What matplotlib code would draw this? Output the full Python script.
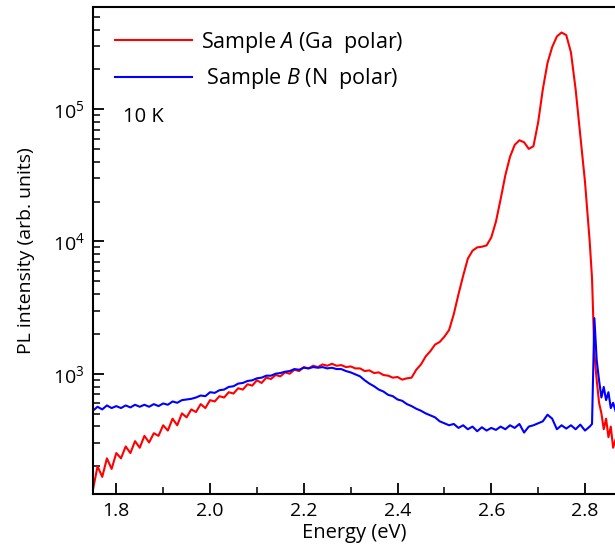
import numpy as np
import matplotlib
matplotlib.use("Agg")
import matplotlib.pyplot as plt
from matplotlib.ticker import MultipleLocator, LogLocator, NullFormatter

plt.rcParams['font.family'] = ['Open Sans', 'DejaVu Sans']
plt.rcParams['mathtext.fontset'] = 'custom'
plt.rcParams['mathtext.it'] = 'Open Sans:italic'
plt.rcParams['mathtext.rm'] = 'Open Sans'

# energy grid (eV)
energy = np.round(np.arange(1.75, 2.8151, 0.01), 3)
energy_tail = [2.815, 2.82, 2.825, 2.83, 2.835, 2.84, 2.845, 2.85, 2.855, 2.86, 2.865]

# log10 of PL intensity, sample A (Ga polar)
log_a = [2.12, 2.30, 2.22, 2.36, 2.28, 2.40, 2.36, 2.45, 2.40, 2.49,
         2.44, 2.53, 2.48, 2.55, 2.53, 2.61, 2.57, 2.66, 2.61, 2.70,
         2.67, 2.73, 2.71, 2.77, 2.74, 2.80, 2.79, 2.83, 2.82, 2.86,
         2.85, 2.89, 2.88, 2.92, 2.91, 2.95, 2.93, 2.97, 2.96, 2.99,
         2.98, 3.01, 3.00, 3.03, 3.02, 3.05, 3.04, 3.06, 3.05, 3.07,
         3.06, 3.075, 3.06, 3.065, 3.05, 3.055, 3.04, 3.04, 3.02, 3.025,
         3.005, 3.01, 2.99, 2.985, 2.97, 2.975, 2.955, 2.965, 2.97, 3.03,
         3.07, 3.13, 3.17, 3.22, 3.24, 3.28, 3.33, 3.45, 3.60, 3.74,
         3.87, 3.93, 3.955, 3.96, 3.97, 4.03, 4.15, 4.32, 4.50, 4.64,
         4.73, 4.765, 4.75, 4.70, 4.72, 4.90, 5.15, 5.35, 5.47, 5.55,
         5.58, 5.56, 5.43, 5.15, 4.80, 4.45, 4.00]
log_a_tail = [3.72, 3.15, 2.95, 2.78, 2.70, 2.58, 2.66, 2.52, 2.60, 2.44, 2.50]

# log10 of PL intensity, sample B (N polar)
log_b = [2.72, 2.75, 2.73, 2.76, 2.74, 2.755, 2.74, 2.76, 2.745, 2.765,
         2.75, 2.765, 2.75, 2.77, 2.755, 2.775, 2.765, 2.79, 2.78, 2.80,
         2.805, 2.81, 2.82, 2.835, 2.83, 2.86, 2.855, 2.875, 2.88, 2.90,
         2.905, 2.925, 2.93, 2.945, 2.95, 2.965, 2.97, 2.985, 2.985, 3.00,
         3.005, 3.015, 3.02, 3.035, 3.03, 3.045, 3.04, 3.05, 3.045, 3.05,
         3.04, 3.045, 3.035, 3.035, 3.02, 3.01, 2.995, 2.98, 2.95, 2.925,
         2.905, 2.88, 2.865, 2.84, 2.83, 2.805, 2.795, 2.77, 2.755, 2.735,
         2.72, 2.70, 2.685, 2.67, 2.64, 2.625, 2.61, 2.62, 2.59, 2.61,
         2.58, 2.60, 2.565, 2.595, 2.57, 2.59, 2.575, 2.60, 2.58, 2.61,
         2.59, 2.62, 2.555, 2.60, 2.61, 2.625, 2.64, 2.69, 2.66, 2.58,
         2.61, 2.585, 2.61, 2.58, 2.615, 2.57, 2.60]
log_b_tail = [2.62, 3.42, 3.10, 2.95, 2.82, 2.90, 2.80, 2.86, 2.74, 2.78, 2.72]

x = np.concatenate([energy, energy_tail])
ya = 10 ** np.array(log_a + log_a_tail)
yb = 10 ** np.array(log_b + log_b_tail)

fig = plt.figure(figsize=(6.15, 5.57), dpi=100)
ax = fig.add_axes([0.151, 0.113, 0.849, 0.874])

ax.plot(x, ya, color='#ff0000', lw=1.5, label='Sample $A$ (Ga  polar)')
ax.plot(x, yb, color='#0000ff', lw=1.5, label=' Sample $B$ (N  polar)')

ax.set_yscale('log')
ax.set_xlim(1.75, 2.864)
ax.set_ylim(123, 5.9e5)
ax.xaxis.set_major_locator(MultipleLocator(0.2))
ax.xaxis.set_minor_locator(MultipleLocator(0.1))
ax.yaxis.set_major_locator(LogLocator(base=10, numticks=10))
ax.yaxis.set_minor_locator(LogLocator(base=10, subs=np.arange(2, 10), numticks=20))
ax.yaxis.set_minor_formatter(NullFormatter())
ax.tick_params(which='major', direction='in', length=8, width=1.3, labelsize=14, pad=6)
ax.tick_params(which='minor', direction='in', length=5, width=1.1)
ax.tick_params(top=False, right=False, which='both')
ax.spines['right'].set_visible(False)
for s in ['left', 'bottom', 'top']:
    ax.spines[s].set_linewidth(1.5)

ax.set_xlabel('Energy (eV)', fontsize=14.5, labelpad=2)
ax.set_ylabel('PL intensity (arb. units)', fontsize=14, labelpad=13)

ax.legend(loc='upper left', frameon=False, fontsize=15.5, handlelength=3.6,
          handletextpad=0.4, labelspacing=0.55, bbox_to_anchor=(0.042, 0.954),
          borderaxespad=0, borderpad=0)
ax.text(0.057, 0.765, '10 K', transform=ax.transAxes, fontsize=14.5)

fig.savefig('out.png', dpi=100)
